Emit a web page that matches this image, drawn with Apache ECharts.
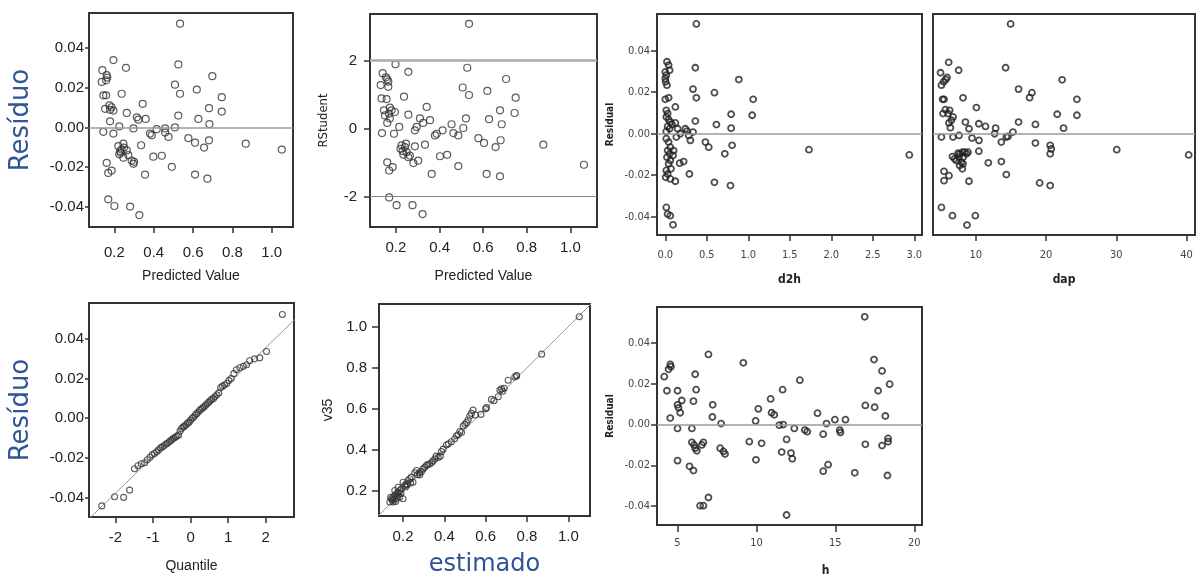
<!DOCTYPE html>
<html><head><meta charset="utf-8">
<script src="https://cdn.jsdelivr.net/npm/echarts@6/dist/echarts.min.js"></script>
<style>html,body{margin:0;padding:0;background:#fff}#c{width:1196px;height:578px}</style>
</head><body><div id="c"></div>
<script>
// ---------- DATA ----------
const residVsPredicted = [[0.534,0.0524],[0.195,0.034],[0.259,0.0301],[0.139,0.0289],[0.161,0.0264],[0.164,0.0252],[0.158,0.0238],[0.136,0.023],[0.525,0.0318],[0.698,0.0259],[0.508,0.0216],[0.534,0.017],[0.619,0.0191],[0.746,0.0153],[0.144,0.0162],[0.158,0.0162],[0.237,0.017],[0.344,0.0119],[0.175,0.0111],[0.186,0.0102],[0.178,0.0089],[0.153,0.0094],[0.195,0.0085],[0.681,0.0097],[0.746,0.008],[0.263,0.0073],[0.178,0.0031],[0.525,0.006],[0.314,0.0051],[0.322,0.0039],[0.359,0.0043],[0.627,0.0043],[0.683,0.0017],[0.144,-0.0022],[0.195,-0.0031],[0.225,0.0005],[0.297,-0.0005],[0.415,-0.0009],[0.458,-0.0005],[0.458,-0.0026],[0.475,-0.0048],[0.508,0.0],[0.381,-0.0031],[0.39,-0.0039],[0.576,-0.0054],[0.61,-0.0077],[0.681,-0.0065],[0.656,-0.0102],[0.868,-0.0082],[1.051,-0.0112],[0.492,-0.0199],[0.398,-0.0148],[0.441,-0.0143],[0.336,-0.009],[0.22,-0.0094],[0.229,-0.0119],[0.232,-0.0128],[0.246,-0.0082],[0.249,-0.0102],[0.263,-0.0116],[0.271,-0.014],[0.246,-0.0153],[0.288,-0.0167],[0.297,-0.0184],[0.3,-0.0174],[0.225,-0.0136],[0.237,-0.0111],[0.356,-0.0238],[0.161,-0.0179],[0.169,-0.023],[0.186,-0.0218],[0.61,-0.0238],[0.673,-0.0259],[0.169,-0.0363],[0.2,-0.0397],[0.28,-0.04],[0.327,-0.0443]];

const rstudentVsPredicted = [[0.535,3.08],[0.198,1.89],[0.257,1.67],[0.139,1.63],[0.154,1.51],[0.16,1.45],[0.165,1.38],[0.13,1.28],[0.165,1.23],[0.527,1.79],[0.705,1.46],[0.506,1.21],[0.535,0.99],[0.619,1.11],[0.749,0.91],[0.237,0.94],[0.134,0.89],[0.157,0.87],[0.341,0.64],[0.145,0.54],[0.172,0.62],[0.18,0.54],[0.168,0.44],[0.195,0.49],[0.15,0.39],[0.677,0.54],[0.744,0.46],[0.257,0.41],[0.172,0.3],[0.16,0.17],[0.31,0.3],[0.325,0.17],[0.356,0.25],[0.521,0.3],[0.627,0.28],[0.685,0.13],[0.215,0.05],[0.136,-0.13],[0.191,-0.15],[0.295,0.05],[0.287,-0.05],[0.387,-0.15],[0.379,-0.2],[0.414,-0.05],[0.455,0.13],[0.463,-0.13],[0.486,-0.2],[0.509,0.02],[0.578,-0.28],[0.604,-0.42],[0.657,-0.54],[0.68,-0.34],[0.876,-0.47],[0.333,-0.47],[0.221,-0.59],[0.231,-0.66],[0.241,-0.54],[0.249,-0.69],[0.234,-0.76],[0.257,-0.84],[0.226,-0.49],[0.246,-0.44],[0.264,-0.79],[0.287,-0.52],[0.28,-1.01],[0.302,-0.94],[0.402,-0.81],[0.435,-0.77],[0.486,-1.1],[0.364,-1.33],[0.16,-0.99],[0.169,-1.23],[0.185,-1.13],[0.616,-1.33],[0.677,-1.4],[0.169,-2.02],[0.203,-2.25],[0.276,-2.25],[0.322,-2.51],[1.062,-1.06]];

const residVsD2h = [[0.374,0.0529],[0.362,0.0318],[0.02,0.0347],[0.04,0.0331],[0.052,0.0306],[0.0,0.0298],[0.012,0.0282],[0.0,0.0266],[0.004,0.025],[0.02,0.0234],[0.886,0.0261],[0.334,0.0215],[0.374,0.0173],[0.592,0.0198],[1.059,0.0166],[0.0,0.0166],[0.04,0.0173],[0.121,0.0129],[0.793,0.0094],[1.047,0.0089],[0.012,0.0113],[0.028,0.0097],[0.012,0.0081],[0.04,0.0069],[0.06,0.0056],[0.081,0.0045],[0.028,0.0035],[0.052,0.0024],[0.012,0.0011],[0.121,0.0052],[0.149,0.0024],[0.181,0.0],[0.133,-0.0016],[0.242,0.0024],[0.262,0.0013],[0.282,-0.0008],[0.302,-0.0032],[0.362,0.0061],[0.616,0.0044],[0.793,0.0027],[0.334,0.0008],[0.483,-0.004],[0.523,-0.0065],[0.717,-0.0097],[0.805,-0.0056],[0.012,-0.0024],[0.04,-0.004],[0.06,-0.0065],[0.028,-0.0081],[0.052,-0.0097],[0.02,-0.0113],[0.06,-0.0129],[0.04,-0.0145],[0.068,-0.0169],[0.1,-0.0081],[0.093,-0.0105],[0.173,-0.0142],[0.221,-0.0134],[0.29,-0.0194],[0.012,-0.0177],[0.028,-0.0194],[0.004,-0.021],[0.06,-0.0218],[0.121,-0.0229],[0.592,-0.0234],[0.785,-0.025],[0.012,-0.0355],[0.028,-0.0387],[0.06,-0.0395],[0.093,-0.0439],[1.731,-0.0077],[2.94,-0.0102]];

const residVsDap = [[14.97,0.0529],[14.26,0.0318],[6.16,0.0344],[7.58,0.0306],[5.0,0.0294],[5.74,0.0261],[5.45,0.025],[5.13,0.0234],[5.92,0.0271],[8.2,0.0173],[16.1,0.0215],[18.0,0.0198],[17.67,0.0174],[5.3,0.0166],[5.5,0.0166],[10.1,0.0126],[5.7,0.0116],[6.3,0.0113],[6.07,0.0097],[5.36,0.0097],[6.78,0.0081],[6.55,0.0065],[6.2,0.0052],[6.4,0.0029],[8.54,0.0056],[10.45,0.0048],[11.4,0.0035],[12.84,0.0027],[12.7,0.0],[16.1,0.0056],[18.5,0.0045],[15.3,0.0008],[14.36,-0.0016],[13.65,-0.004],[14.6,-0.0013],[9.05,0.0024],[5.13,-0.0016],[6.78,-0.0016],[7.63,-0.0008],[9.48,-0.0021],[10.47,-0.0032],[18.5,-0.0045],[6.7,-0.011],[7.0,-0.0121],[7.49,-0.0094],[7.73,-0.0097],[8.1,-0.0089],[8.44,-0.0089],[7.63,-0.0113],[8.2,-0.0113],[7.97,-0.0137],[7.73,-0.0153],[8.1,-0.0169],[7.26,-0.0129],[8.7,-0.0097],[8.2,-0.0145],[8.9,-0.0089],[10.45,-0.0084],[11.8,-0.014],[13.65,-0.0134],[14.36,-0.0197],[5.5,-0.0181],[5.5,-0.0226],[6.2,-0.0202],[9.05,-0.0229],[5.13,-0.0355],[6.7,-0.0395],[9.95,-0.0395],[8.77,-0.044],[24.4,0.0166],[24.4,0.0089],[22.3,0.026],[21.6,0.0094],[22.5,0.0027],[20.6,-0.0056],[20.75,-0.0073],[20.6,-0.0097],[19.1,-0.0237],[20.6,-0.025],[30.07,-0.0077],[40.3,-0.0102]];

const residVsH = [[16.86,0.0529],[6.96,0.0344],[9.17,0.0303],[17.45,0.0319],[12.75,0.0218],[17.96,0.0263],[4.54,0.0295],[4.43,0.0271],[4.58,0.0284],[4.16,0.0235],[6.12,0.0247],[18.44,0.0198],[17.71,0.0166],[4.33,0.0166],[5.0,0.0166],[6.18,0.0171],[11.66,0.0171],[10.9,0.0126],[5.27,0.0118],[5.0,0.0097],[5.06,0.0082],[5.17,0.0058],[6.01,0.0115],[7.23,0.0097],[10.12,0.0077],[16.9,0.0094],[17.49,0.0085],[10.96,0.0058],[11.13,0.0048],[13.87,0.0056],[7.21,0.0037],[4.54,0.0032],[18.17,0.0042],[7.76,0.0005],[9.95,0.0018],[14.97,0.0024],[15.64,0.0024],[11.45,-0.0003],[11.7,0.0],[5.0,-0.0019],[5.91,-0.0019],[12.4,-0.0019],[13.07,-0.0027],[13.22,-0.0035],[14.44,0.0005],[15.28,-0.0027],[15.32,-0.0039],[11.91,-0.0073],[9.55,-0.0084],[10.33,-0.0092],[14.23,-0.0047],[5.91,-0.0087],[6.05,-0.01],[6.12,-0.0116],[6.22,-0.0129],[6.64,-0.0087],[6.54,-0.01],[7.7,-0.0116],[7.91,-0.0132],[8.01,-0.0145],[16.9,-0.0097],[17.96,-0.0103],[18.34,-0.0068],[18.34,-0.0084],[11.6,-0.0135],[12.19,-0.014],[12.27,-0.0168],[9.97,-0.0173],[5.0,-0.0177],[14.54,-0.0197],[14.23,-0.0229],[5.76,-0.0205],[6.01,-0.0226],[16.23,-0.0237],[18.3,-0.025],[6.96,-0.0358],[6.43,-0.0398],[6.64,-0.0398],[11.91,-0.0444]];

const qqQuantiles = [-2.36,-2.02,-1.78,-1.62,-1.49,-1.40,-1.31,-1.22,-1.15,-1.08,-1.02,-0.96,-0.90,-0.85,-0.80,-0.75,-0.70,-0.65,-0.61,-0.56,-0.52,-0.48,-0.44,-0.40,-0.36,-0.32,-0.28,-0.24,-0.20,-0.16,-0.12,-0.08,-0.04,0.00,0.04,0.08,0.12,0.16,0.20,0.24,0.28,0.32,0.36,0.40,0.44,0.48,0.52,0.56,0.61,0.65,0.70,0.75,0.80,0.85,0.90,0.96,1.02,1.08,1.15,1.22,1.31,1.40,1.49,1.57,1.70,1.84,2.02,2.44];
const qqResiduals = [-0.0443,-0.0397,-0.0400,-0.0363,-0.0255,-0.0240,-0.0230,-0.0225,-0.0210,-0.0197,-0.0185,-0.0178,-0.0170,-0.0160,-0.0150,-0.0145,-0.0138,-0.0130,-0.0125,-0.0118,-0.0112,-0.0105,-0.0100,-0.0095,-0.0090,-0.0085,-0.0065,-0.0052,-0.0045,-0.0040,-0.0033,-0.0025,-0.0020,-0.0010,0.0000,0.0005,0.0015,0.0022,0.0030,0.0040,0.0045,0.0052,0.0058,0.0065,0.0073,0.0080,0.0088,0.0095,0.0100,0.0110,0.0118,0.0128,0.0155,0.0162,0.0168,0.0175,0.0190,0.0200,0.0225,0.0245,0.0255,0.0262,0.0270,0.0290,0.0300,0.0305,0.0337,0.0524];
const qqRefLine = [[-2.75,-0.0517],[2.8,0.0504]];

const v35VsEstimado = [[0.871,0.866],[0.749,0.762],[0.741,0.755],[0.709,0.739],[0.677,0.697],[0.669,0.691],[0.682,0.686],[0.661,0.659],[0.628,0.646],[0.604,0.606],[0.577,0.573],[0.539,0.594],[0.531,0.578],[0.523,0.565],[0.515,0.546],[0.507,0.533],[0.499,0.525],[0.491,0.517],[0.483,0.485],[0.467,0.474],[0.459,0.469],[0.434,0.44],[0.41,0.424],[0.394,0.404],[0.386,0.392],[0.37,0.364],[0.354,0.356],[0.345,0.348],[0.329,0.332],[0.313,0.324],[0.305,0.316],[0.297,0.308],[0.289,0.295],[0.265,0.3],[0.257,0.289],[0.281,0.279],[0.24,0.268],[0.232,0.26],[0.224,0.252],[0.248,0.243],[0.216,0.235],[0.2,0.243],[0.208,0.227],[0.192,0.211],[0.184,0.203],[0.176,0.195],[0.168,0.187],[0.16,0.179],[0.152,0.171],[0.144,0.163],[0.168,0.163],[0.152,0.147],[0.136,0.147],[0.184,0.171],[0.2,0.163],[0.16,0.203],[0.176,0.219],[0.148,0.155],[0.156,0.16],[0.164,0.15],[0.172,0.175],[0.14,0.17],[0.18,0.185],[0.19,0.19],[0.212,0.22],[0.22,0.23],[0.236,0.24],[0.27,0.28],[0.28,0.29],[0.32,0.33],[0.34,0.34],[0.36,0.37],[0.38,0.37],[0.42,0.43],[0.45,0.455],[0.475,0.49],[0.55,0.57],[0.6,0.6],[0.64,0.64],[0.69,0.7],[0.75,0.76],[1.053,1.048]];
const identityLine = [[0,0],[1.2,1.2]];

const ticksPredicted = [0.2,0.4,0.6,0.8,1.0];
const ticksResidual = [-0.04,-0.02,0,0.02,0.04];
const ticksRStudent = [-2,0,2];
const ticksD2h = [0,0.5,1,1.5,2,2.5,3];
const ticksDap = [10,20,30,40];
const ticksH = [5,10,15,20];
const ticksQuantile = [-2,-1,0,1,2];
const ticksV35 = [0.2,0.4,0.6,0.8,1.0];
const refRStudent = [2,-2];

// ---------- LAYOUT / STYLE ----------
const NARROW = "'DejaVu Sans Condensed', 'Liberation Sans', sans-serif";
const BIG = {fontFamily:"'Liberation Sans', sans-serif", fontSize:15, color:'#222'};
const SMALL = {fontFamily:NARROW, fontSize:11, color:'#444'};
const BLUE = {fontFamily:"'DejaVu Sans', sans-serif", fontSize:26, color:'#2f5597'};
const grids = [
  {left:89, top:13, width:204, height:214},
  {left:370, top:14, width:227, height:213},
  {left:657, top:14, width:265, height:221},
  {left:933, top:14, width:262, height:221},
  {left:89, top:303, width:205, height:214},
  {left:379, top:304, width:211, height:213},
  {left:657, top:307, width:265, height:221}
].map(g => Object.assign({show:true, borderColor:'#333', borderWidth:2, backgroundColor:'#fff'}, g));

function axis(i, min, max, ticks, fmt, st, opt) {
  opt = opt || {};
  return {
    type:'value', gridIndex:i, min:min, max:max, scale:true,
    splitLine:{show:false},
    axisLine:{show:true, onZero:false, lineStyle:{color:'#333', width:2}},
    axisTick:{show:!opt.noTicks, customValues:ticks, length:opt.tickLen||5, lineStyle:{color:'#333', width:1.5}},
    axisLabel:{show:!opt.noLabels, customValues:ticks, formatter:fmt, margin:opt.margin||8,
      fontFamily:st.fontFamily, fontSize:st.fontSize, color:st.color},
    name:opt.name||'', nameLocation:'middle', nameGap:opt.nameGap||30,
    nameTextStyle:Object.assign({}, opt.nameStyle||st, opt.namePad?{padding:opt.namePad}:{})
  };
}
const f2 = v => v.toFixed(2);
const f1 = v => v.toFixed(1);
const f0 = v => String(v);
const smallName = {fontFamily:NARROW, fontSize:12, fontWeight:'bold', color:'#222'};
const smallYName = {fontFamily:NARROW, fontSize:10, fontWeight:'bold', color:'#222'};
const bigName = {fontFamily:"'Liberation Sans', sans-serif", fontSize:14, color:'#222'};

const xAxes = [
  axis(0, 0.071, 1.108, ticksPredicted, f1, BIG, {margin:18, tickLen:6, name:'Predicted Value', nameGap:42, nameStyle:bigName}),
  axis(1, 0.081, 1.122, ticksPredicted, f1, BIG, {margin:13, tickLen:6, name:'Predicted Value', nameGap:42, nameStyle:bigName}),
  axis(2, -0.1, 3.093, ticksD2h, f1, SMALL, {margin:15, tickLen:6, name:'d2h', nameGap:39, nameStyle:smallName}),
  axis(3, 3.93, 41.2, ticksDap, f0, SMALL, {margin:15, tickLen:6, name:'dap', nameGap:39, nameStyle:smallName}),
  axis(4, -2.70, 2.75, ticksQuantile, f0, BIG, {margin:13, tickLen:6, name:'Quantile', nameGap:42, nameStyle:bigName}),
  axis(5, 0.0836, 1.105, ticksV35, f1, BIG, {margin:13, tickLen:6, name:'estimado', nameGap:37, nameStyle:Object.assign({}, BLUE, {fontSize:24})}),
  axis(6, 3.70, 20.49, ticksH, f0, SMALL, {margin:13, tickLen:7, name:'h', nameGap:40, nameStyle:smallName, namePad:[0,0,0,72]})
];
const yAxes = [
  axis(0, -0.0503, 0.0578, ticksResidual, f2, BIG, {margin:5, tickLen:4, name:'Resíduo', nameGap:55, nameStyle:BLUE}),
  axis(1, -2.89, 3.37, ticksRStudent, f0, BIG, {margin:13, tickLen:6, name:'RStudent', nameGap:40, nameStyle:{fontFamily:NARROW, fontSize:13, color:'#222'}}),
  axis(2, -0.0488, 0.0577, ticksResidual, f2, SMALL, {margin:7, tickLen:6, name:'Residual', nameGap:42, nameStyle:smallYName}),
  axis(3, -0.0488, 0.0577, ticksResidual, f2, SMALL, {noTicks:true, noLabels:true}),
  axis(4, -0.0499, 0.0582, ticksResidual, f2, BIG, {margin:5, tickLen:4, name:'Resíduo', nameGap:55, nameStyle:BLUE}),
  axis(5, 0.079, 1.11, ticksV35, f1, BIG, {margin:12, tickLen:7, name:'v35', nameGap:44, nameStyle:bigName}),
  axis(6, -0.0493, 0.0577, ticksResidual, f2, SMALL, {margin:7, tickLen:6, name:'Residual', nameGap:42, nameStyle:smallYName})
];

function hLines(vals, colors, widths) {
  return {symbol:['none','none'], silent:true, label:{show:false}, animation:false,
    data: vals.map((v,k) => ({yAxis:v, lineStyle:{color:colors[k], width:widths[k], type:'solid'}}))};
}
function scatter(i, data, size, bw, col, ml) {
  const s = {type:'scatter', xAxisIndex:i, yAxisIndex:i, data:data, symbol:'circle', symbolSize:size,
    itemStyle:{color:'rgba(0,0,0,0)', borderColor:col, borderWidth:bw}, silent:true, z:3};
  if (ml) s.markLine = ml;
  return s;
}
const zeroLine = () => hLines([0], ['#9a9a9a'], [1.5]);
const qqPoints = qqQuantiles.map((q,k) => [q, qqResiduals[k]]);

const series = [
  scatter(0, residVsPredicted, 7, 1.2, '#333', zeroLine()),
  scatter(1, rstudentVsPredicted, 7, 1.2, '#333', hLines(refRStudent, ['#aaa','#888'], [2.5,1.2])),
  scatter(2, residVsD2h, 6, 1.8, '#222', zeroLine()),
  scatter(3, residVsDap, 6, 1.8, '#222', zeroLine()),
  {type:'line', xAxisIndex:4, yAxisIndex:4, data:qqRefLine, showSymbol:false, clip:true, silent:true,
    lineStyle:{color:'#999', width:1}, z:2},
  scatter(4, qqPoints, 6, 1.1, '#333'),
  {type:'line', xAxisIndex:5, yAxisIndex:5, data:identityLine, showSymbol:false, clip:true, silent:true,
    lineStyle:{color:'#999', width:1}, z:2},
  scatter(5, v35VsEstimado, 6, 1.1, '#333'),
  scatter(6, residVsH, 6, 1.8, '#222', zeroLine())
];

const chart = echarts.init(document.getElementById('c'), null, {renderer:'canvas'});
chart.setOption({
  animation:false,
  backgroundColor:'#fff',
  grid:grids, xAxis:xAxes, yAxis:yAxes, series:series
});
</script>
</body></html>
